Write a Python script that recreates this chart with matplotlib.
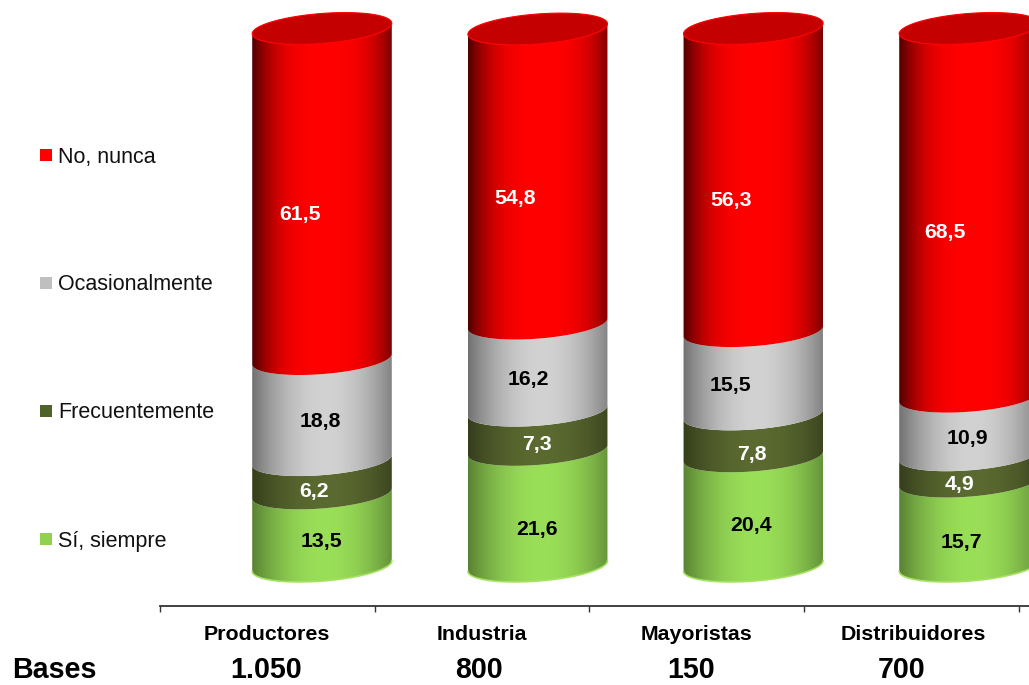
import numpy as np
import matplotlib
matplotlib.use("Agg")
import matplotlib.pyplot as plt
from matplotlib.patches import Polygon, Rectangle
from matplotlib.colors import to_rgb

plt.rcParams['font.family'] = ['Liberation Sans', 'DejaVu Sans']

# Survey data, stacked from the bottom up
categories = ['Productores', 'Industria', 'Mayoristas', 'Distribuidores']
bases = ['1.050', '800', '150', '700']
series = ['Sí, siempre', 'Frecuentemente', 'Ocasionalmente', 'No, nunca']
siempre = [13.5, 21.6, 20.4, 15.7]
frecuente = [6.2, 7.3, 7.8, 4.9]
ocasional = [18.8, 16.2, 15.5, 10.9]
nunca = [61.5, 54.8, 56.3, 68.5]
values = [siempre, frecuente, ocasional, nunca]

colors = ['#9ADF58', '#5B6A30', '#D2D2D2', '#FF0000']
legend_colors = ['#92D050', '#4F6228', '#BFBFBF', '#FF0000']
label_colors = ['black', 'white', 'black', 'white']
edge_dark = [0.62, 0.62, 0.58, 0.40]
edge_power = [2.0, 2.0, 2.0, 3.0]

W, H = 1029, 685
UNIT_X = 215.67     # px between cylinders
UNIT_Y = 5.375      # px per percentage point
X0, Y0 = 322, 566   # px position of the first cylinder base centre
A, B = 70, 15       # ellipse semi-axes in px
TILT = np.radians(4.5)

# small per-label nudges in px (value labels are not centred on the cylinders)
label_dx = [[-1, -1, -2, -8], [-8, -1, -1, -10], [-2, -9, -23, -2], [-22, -23, -22, -24]]
label_dy = [[12, 22, 14, 19], [15, 14, 19, 16], [12, 12, 13, 13], [21, 22, 21, 20]]

fig = plt.figure(figsize=(W / 100, H / 100), dpi=100)
ax = fig.add_axes([0, 0, 1, 1])
xlim = (-X0 / UNIT_X, (W - X0) / UNIT_X)
ylim = ((Y0 - H) / UNIT_Y, Y0 / UNIT_Y)


def px(x, y):
    # figure pixels (y downwards) to data coordinates
    return (x - X0) / UNIT_X, (Y0 - y) / UNIT_Y


def ellipse_arc(i, level, start, stop, n=80):
    t = np.linspace(start, stop, n)
    ex = A * np.cos(t)
    ey = B * np.sin(t)
    dx = ex * np.cos(TILT) - ey * np.sin(TILT)
    dy = ex * np.sin(TILT) + ey * np.cos(TILT)
    return np.column_stack([i + dx / UNIT_X, level + dy / UNIT_Y])


def shade(color, dark, power):
    # horizontal cylinder shading: dark rims, bright middle
    t = np.linspace(-1, 1, 256)
    k = 1 - (1 - dark) * np.abs(t - 0.05) ** power
    return (np.array(to_rgb(color)) * k[:, None])[None, :, :]


for s, vals in enumerate(values):
    for i, v in enumerate(vals):
        low = sum(values[k][i] for k in range(s))
        high = low + v
        # front face of the segment: lower arc, then upper arc back
        lower = ellipse_arc(i, low, np.pi, 2 * np.pi)
        upper = ellipse_arc(i, high, 2 * np.pi, np.pi)
        poly = Polygon(np.vstack([lower, upper]), closed=True, fc='none', ec='none')
        ax.add_patch(poly)
        im = ax.imshow(shade(colors[s], edge_dark[s], edge_power[s]), aspect='auto', interpolation='bilinear',
                       extent=(i - A / UNIT_X, i + A / UNIT_X, low - 5, high + 5), zorder=2)
        im.set_clip_path(poly)
        if s == 0:
            ax.plot(lower[:, 0], lower[:, 1], color='#A6E262', lw=1.2, zorder=3)
        cx, cy = i + label_dx[s][i] / UNIT_X, (low + high) / 2 - label_dy[s][i] / UNIT_Y
        ax.text(cx, cy, f'{v:.1f}'.replace('.', ','), color=label_colors[s], fontsize=15.3,
                fontweight='bold', ha='center', va='center', zorder=5)

# darker top cap of each cylinder
for i in range(len(categories)):
    top = sum(v[i] for v in values)
    ring = ellipse_arc(i, top, 0, 2 * np.pi, 160)
    ax.add_patch(Polygon(ring, closed=True, fc='#C40000', ec='#FF0000', lw=0.8, zorder=4))

# legend, top to bottom
for s, y in zip(range(3, -1, -1), [155, 283, 411, 539]):
    x0, y0 = px(40, y + 6)
    ax.add_patch(Rectangle((x0, y0), 12 / UNIT_X, 12 / UNIT_Y, fc=legend_colors[s], ec='none', zorder=4))
    tx, ty = px(58, y + 2)
    ax.text(tx, ty, series[s], fontsize=15.5, color='#111111', ha='left', va='center')

# category axis along the bottom
tick_px = [160, 374.5, 589, 804, 1019]
ax.set_xticks([px(t, 0)[0] for t in tick_px])
ax.set_xticklabels([])
ax.set_yticks([])
for name in ['top', 'left', 'right']:
    ax.spines[name].set_visible(False)
ax.spines['bottom'].set_position(('data', px(0, 606)[1]))
ax.spines['bottom'].set_bounds(px(160, 0)[0], xlim[1])
ax.spines['bottom'].set_linewidth(1.3)
ax.spines['bottom'].set_color('#333333')
ax.tick_params(axis='x', direction='out', length=4.5, width=1, color='#333333')

for name, x in zip(categories, [267, 482, 697, 913]):
    tx, ty = px(x, 635)
    ax.text(tx, ty, name, fontsize=15.4, fontweight='bold', ha='center', va='center')

# bases row sits on a baseline close to the bottom edge
tx, ty = px(12, 678.5)
ax.text(tx, ty, 'Bases', fontsize=20.6, fontweight='bold', ha='left', va='baseline')
for b, x in zip(bases, [266, 479, 691, 902]):
    tx, ty = px(x, 678.5)
    ax.text(tx, ty, b, fontsize=20.6, fontweight='bold', ha='center', va='baseline')

ax.set_xlim(xlim)
ax.set_ylim(ylim)
ax.patch.set_visible(False)

fig.savefig('out.png', dpi=100, facecolor='white')
